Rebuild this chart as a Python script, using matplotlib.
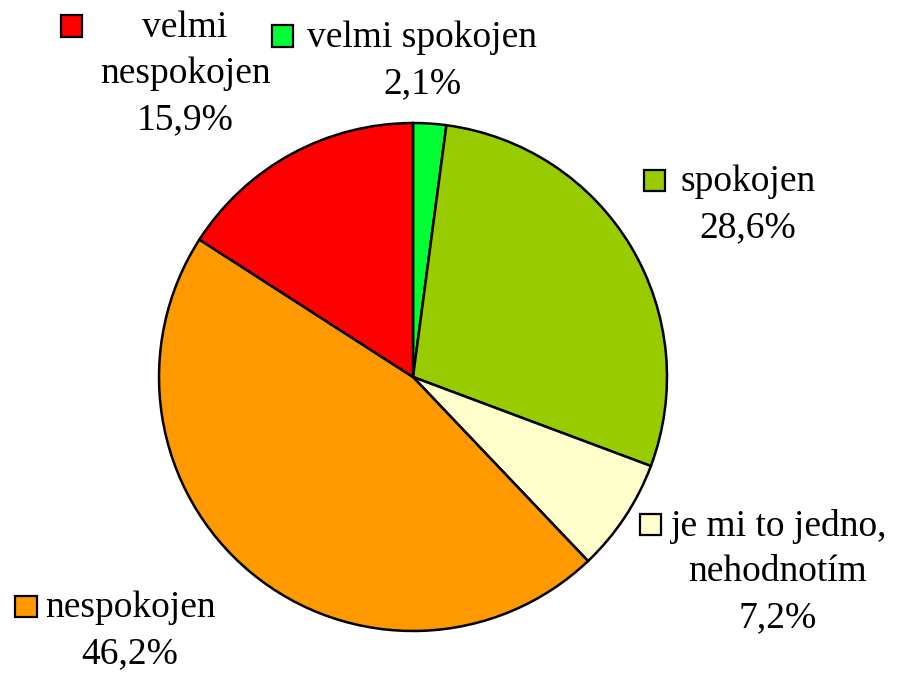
import matplotlib.pyplot as plt
import matplotlib.patches as mpatches

categories = ["velmi spokojen", "spokojen", "je mi to jedno, nehodnotím",
              "nespokojen", "velmi nespokojen"]
values = [2.1, 28.6, 7.2, 46.2, 15.9]
colors = ["#00FF33", "#99CC00", "#FFFFCC", "#FF9900", "#FF0000"]

# label text lines (value line appended automatically)
label_lines = [
    ["velmi spokojen"],
    ["spokojen"],
    ["je mi to jedno,", "nehodnotím"],
    ["nespokojen"],
    ["velmi", "nespokojen"],
]
# (x center of text, y of first line, x of key box) in pixels from top-left
label_pos = [
    (422, 38, 282),
    (748, 182, 655),
    (778, 526, 651),
    (130, 608, 26),
    (185, 28, 71),
]

W, H = 904, 674
fig = plt.figure(figsize=(W / 100, H / 100), dpi=100)
plt.rcParams["font.family"] = ["Liberation Serif", "DejaVu Serif"]

cx, cy, r = 413, 377, 255
ax = fig.add_axes([(cx - r) / W, (H - cy - r) / H, 2 * r / W, 2 * r / H])
ax.pie(values, colors=colors, startangle=90, counterclock=False,
       wedgeprops=dict(edgecolor="black", linewidth=1.8))
ax.set_xlim(-1.004, 1.004)
ax.set_ylim(-1.004, 1.004)
ax.set_aspect("equal")
ax.axis("off")

line_h = 46
fs = 27
for lines, val, col, (tx, ty, bx) in zip(label_lines, values, colors, label_pos):
    all_lines = lines + [f"{val:.1f}".replace(".", ",") + "%"]
    for i, t in enumerate(all_lines):
        fig.text(tx / W, 1 - (ty + i * line_h) / H, t, ha="center", va="center",
                 fontsize=fs, color="black")
    box = 21
    rect = mpatches.Rectangle(((bx - box / 2) / W, 1 - (ty + box / 2 - 2) / H),
                              box / W, box / H, transform=fig.transFigure,
                              facecolor=col, edgecolor="black", linewidth=1.6)
    fig.patches.append(rect)

fig.savefig("out.png", dpi=100, facecolor="white")
